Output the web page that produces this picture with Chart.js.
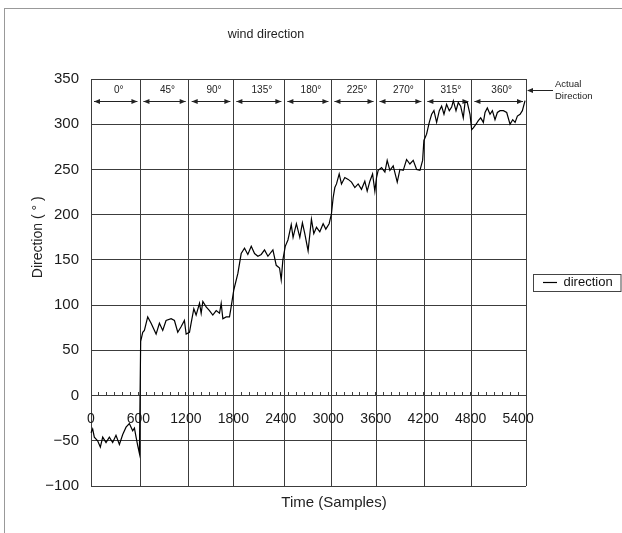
<!DOCTYPE html>
<html><head><meta charset="utf-8">
<script src="https://cdn.jsdelivr.net/npm/chart.js@4.4.1/dist/chart.umd.min.js"></script>
<style>
html,body{margin:0;padding:0;background:#fff;}
#wrap{position:relative;width:622px;height:533px;overflow:hidden;}
#frame{position:absolute;left:4px;top:8px;width:700px;height:600px;border-left:1px solid #999;border-top:1px solid #999;}
canvas{position:absolute;left:0;top:0;}
</style></head><body>
<div id="wrap"><div id="frame"></div><canvas id="c" width="622" height="533"></canvas></div>
<script>
// ---- data ----
const sampleIndex = [
  0,21,42,84,118,148,190,232,274,316,359,401,443,485,527,549,570,590,612,
  628,654,675,717,760,823,865,907,949,1013,1055,1097,1139,1181,1203,1245,
  1266,1300,1329,1372,1393,1414,1456,1498,1540,1583,1625,1646,1667,1709,1751,1772,1806,
  1857,1899,1941,1983,2026,2068,2110,2152,2194,2237,2300,2342,2384,2405,2426,
  2456,2490,2532,2555,2597,2640,2673,2703,2745,2787,2817,2851,2893,2935,2969,3011,3040,
  3062,3083,3104,3138,3167,3209,3252,3294,3336,3378,3420,3462,3492,3526,3560,3589,3610,
  3631,3674,3716,3745,3779,3821,3872,3906,3948,3990,4032,4074,4117,4159,4193,4209,4243,4277,
  4307,4336,4370,4404,4433,4463,4496,4530,4560,4581,4615,4644,4674,4707,4729,4758,4792,4813,
  4834,4868,4897,4927,4961,4982,5011,5045,5075,5108,5138,5172,5214,5256,5298,5332,5362,5391,5425,5454,5488
];
const directionDeg = [
  -41,-37,-46,-50,-57,-46,-52,-46,-52,-44,-54,-43,-35,-31,-39,-36,-46,-55,-64,
  60,70,72,87,80,68,80,72,83,85,83,70,76,83,68,70,
  80,96,89,102,91,104,98,94,89,94,91,102,85,87,87,98,117,
  135,157,163,156,165,157,154,156,161,154,161,144,141,128,150,
  165,172,189,175,190,175,191,179,160,195,179,186,181,190,184,190,201,
  219,230,234,245,234,241,239,236,230,234,228,237,226,237,245,226,241,
  249,252,247,260,249,254,236,250,249,261,256,260,250,249,260,282,289,302,
  311,315,302,315,320,311,322,315,319,326,315,324,320,307,324,324,311,294,
  296,300,304,307,302,313,318,311,315,305,313,315,315,313,300,305,302,309,311,315,326
];
const segmentBounds = [0,625,1235,1800,2445,3040,3610,4215,4810,5500];
const segmentLabels = ['0°','45°','90°','135°','180°','225°','270°','315°','360°'];
const xTickValues = [0,600,1200,1800,2400,3000,3600,4200,4800,5400];
const yTickValues = [-100,-50,0,50,100,150,200,250,300,350];

// ---- style constants ----
const FONT = '"Liberation Sans", Arial, sans-serif';
const GRID = '#3c3c3c';
const LEGEND_W = 96, Y_AXIS_W = 91, X_TITLE_H = 47;
const TITLE_CX = 266, XTITLE_CX = 334;
const LABEL_Y = 338, ARROW_Y = 326;

function arrowHead(ctx, x, y, dir){
  ctx.beginPath();
  ctx.moveTo(x, y);
  ctx.lineTo(x - dir*6, y - 2.5);
  ctx.lineTo(x - dir*6, y + 2.5);
  ctx.closePath();
  ctx.fill();
}

const fixLayout = {
  id: 'fixLayout',
  beforeLayout(chart){
    const lg = chart.legend;
    if (lg && !lg._wFixed){
      const f = lg.fit;
      lg.fit = function(){ f.call(this); this.width = LEGEND_W; };
      lg._wFixed = true;
    }
  },
  afterLayout(chart){
    const t = chart.titleBlock;
    if (t){ const w = t.right - t.left; t.left = TITLE_CX - w/2; t.right = TITLE_CX + w/2; }
    const y = chart.scales.y;
    y.bottom = y.getPixelForValue(0);
    const xt = chart.scales.xTitle;
    const w2 = xt.right - xt.left; xt.left = XTITLE_CX - w2/2; xt.right = XTITLE_CX + w2/2;
  }
};

const annotations = {
  id: 'annotations',
  beforeDatasetsDraw(chart){
    const {ctx, scales:{x, y}, chartArea} = chart;
    ctx.save();
    ctx.fillStyle = '#222'; ctx.strokeStyle = '#222'; ctx.lineWidth = 1;
    ctx.font = '10px ' + FONT;
    ctx.textAlign = 'center'; ctx.textBaseline = 'middle';
    const yl = y.getPixelForValue(LABEL_Y);
    const ya = Math.round(y.getPixelForValue(ARROW_Y)) + 0.5;
    for (let i = 0; i < segmentLabels.length; i++){
      const x0 = x.getPixelForValue(segmentBounds[i]);
      const x1 = x.getPixelForValue(segmentBounds[i+1]);
      ctx.fillText(segmentLabels[i], (x0 + x1)/2 + 3, yl);
      const a = x0 + 3, b = x1 - 3;
      ctx.beginPath(); ctx.moveTo(a, ya); ctx.lineTo(b, ya); ctx.stroke();
      arrowHead(ctx, a, ya, -1); arrowHead(ctx, b, ya, 1);
    }
    // "Actual Direction" callout
    const ay = Math.round(yl) + 0.5;
    const r = chartArea.right;
    ctx.beginPath(); ctx.moveTo(r + 27, ay); ctx.lineTo(r + 2, ay); ctx.stroke();
    arrowHead(ctx, r + 1, ay, -1);
    ctx.textAlign = 'left';
    ctx.font = '9.5px ' + FONT;
    ctx.fillText('Actual', r + 29, ay - 6.5);
    ctx.fillText('Direction', r + 29, ay + 6);
    ctx.restore();
  },
  afterDraw(chart){
    const lg = chart.legend;
    if (!lg || !lg.legendHitBoxes || !lg.legendHitBoxes.length) return;
    const hb = lg.legendHitBoxes[0];
    const ctx = chart.ctx;
    ctx.save();
    ctx.strokeStyle = '#444'; ctx.lineWidth = 1;
    const l = Math.round(hb.left - 10) + 0.5, t = Math.round(hb.top - 2) + 0.5;
    ctx.strokeRect(l, t, chart.width - 1 - l, Math.round(hb.height + 4));
    ctx.restore();
  }
};

new Chart(document.getElementById('c'), {
  type: 'line',
  data: {
    datasets: [{
      label: 'direction',
      data: sampleIndex.map((s, i) => ({x: s, y: directionDeg[i]})),
      borderColor: '#000',
      backgroundColor: '#000',
      borderWidth: 1.2,
      pointRadius: 0,
      tension: 0,
      fill: false,
      clip: false,
      pointStyle: 'line',
      xAxisID: 'x',
      yAxisID: 'y'
    }]
  },
  options: {
    responsive: false,
    animation: false,
    events: [],
    layout: {padding: 0},
    plugins: {
      title: {
        display: true, text: 'wind direction', color: '#222',
        font: {family: FONT, size: 12.5, weight: 'normal'},
        padding: {top: 27, bottom: 37}
      },
      legend: {
        display: true, position: 'right', fullSize: false,
        labels: {
          usePointStyle: true, pointStyle: 'line', pointStyleWidth: 14,
          padding: 17, color: '#111',
          font: {family: FONT, size: 13}
        }
      },
      tooltip: {enabled: false}
    },
    scales: {
      y: {
        type: 'linear', position: 'left', min: -100, max: 350,
        afterFit(s){ s.width = Y_AXIS_W; },
        afterBuildTicks(s){ s.ticks = yTickValues.map(v => ({value: v})); },
        ticks: {
          padding: 12, color: '#1a1a1a', font: {family: FONT, size: 15},
          callback: v => v < 0 ? '\u2212' + Math.abs(v) : String(v)
        },
        grid: {color: GRID, lineWidth: 1, drawTicks: false},
        border: {display: false},
        title: {display: true, text: 'Direction ( ° )', color: '#222',
          font: {family: FONT, size: 14}, padding: {top: 30, bottom: 0}}
      },
      x: {
        type: 'linear', position: {y: 0}, min: 0, max: 5500,
        afterBuildTicks(s){
          const t = [];
          for (let v = 0; v <= 5500; v += 100) t.push({value: v});
          s.ticks = t;
        },
        ticks: {
          autoSkip: false, maxRotation: 0, padding: 19, color: '#1a1a1a',
          font: {family: FONT, size: 14},
          callback: v => xTickValues.includes(v) ? String(v) : ''
        },
        grid: {drawOnChartArea: false, drawTicks: true, tickLength: -4, color: GRID},
        border: {display: true, color: GRID, width: 1}
      },
      xb: {
        type: 'linear', position: {y: 0}, min: 0, max: 5500,
        afterBuildTicks(s){ s.ticks = segmentBounds.map(v => ({value: v})); },
        ticks: {display: false},
        grid: {drawOnChartArea: true, drawTicks: false, color: GRID, lineWidth: 1},
        border: {display: false}
      },
      xTitle: {
        type: 'linear', position: 'bottom', min: 0, max: 1,
        afterFit(s){ s.height = X_TITLE_H; },
        ticks: {display: false},
        grid: {display: false, drawTicks: false},
        border: {display: false},
        title: {display: true, text: 'Time (Samples)', color: '#222',
          font: {family: FONT, size: 15}, padding: {top: 0, bottom: 21}}
      }
    }
  },
  plugins: [fixLayout, annotations]
});
</script>
</body></html>
